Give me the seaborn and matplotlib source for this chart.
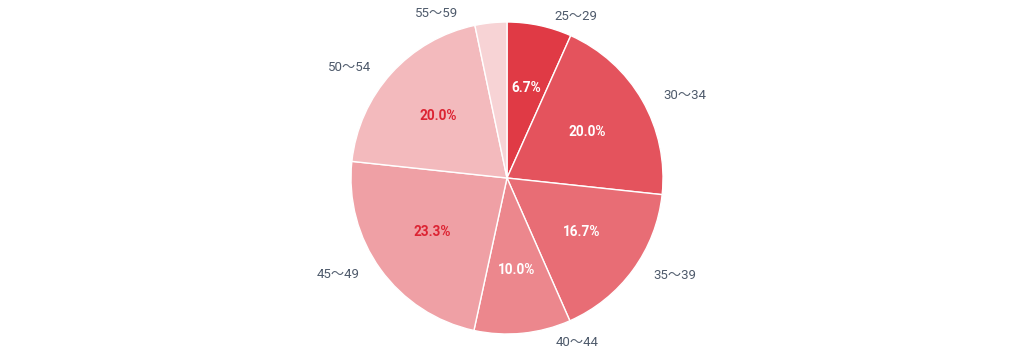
import matplotlib
matplotlib.use("Agg")
import matplotlib.pyplot as plt
import seaborn as sns

# --------------------------
# Data
# --------------------------
age_groups = ["25～29", "30～34", "35～39", "40～44", "45～49", "50～54", "55～59"]
shares = [6.7, 20.0, 16.7, 10.0, 23.3, 20.0, 3.3]

sns.set_theme(style="white")
plt.rcParams["font.family"] = ["Roboto", "Noto Sans CJK JP", "DejaVu Sans"]

colors = sns.blend_palette(["#E03A45", "#F7D3D5"], len(age_groups))

# --------------------------
# Plot
# --------------------------
fig = plt.figure(figsize=(10.24, 3.64), dpi=100)
W, H = 1024, 364
cx, cy, r = 507, 364 - 178, 156
k = 1.25
side = 2 * r * k
ax = fig.add_axes([(cx - side / 2) / W, (cy - side / 2) / H, side / W, side / H])

wedges, texts, autotexts = ax.pie(
    shares,
    labels=age_groups,
    colors=colors,
    startangle=90,
    counterclock=False,
    labeldistance=1.06,
    pctdistance=0.59,
    autopct=lambda p: f"{p:.1f}%" if p > 5 else "",
    wedgeprops=dict(edgecolor="white", linewidth=1),
    textprops=dict(fontsize=9.5, color="#4E5A6B"),
)

# push the outer labels sideways, away from the pie
# (labels sitting almost straight above/below get pushed further)
for t in texts:
    x, y = t.get_position()
    sign = 1 if x > 0 else -1
    pad = 13 if abs(x) / 1.06 > 0.15 else 32
    t.set_position((x + sign * pad / r, y))
    t.set_verticalalignment("center")

for i, t in enumerate(autotexts):
    t.set_fontweight("bold")
    t.set_fontsize(9.8)
    t.set_color("white" if i < 4 else "#DC2433")

ax.set_xlim(-k, k)
ax.set_ylim(-k, k)
ax.set_aspect("equal")
ax.axis("off")

fig.savefig("out.png", dpi=100)
plt.close()
